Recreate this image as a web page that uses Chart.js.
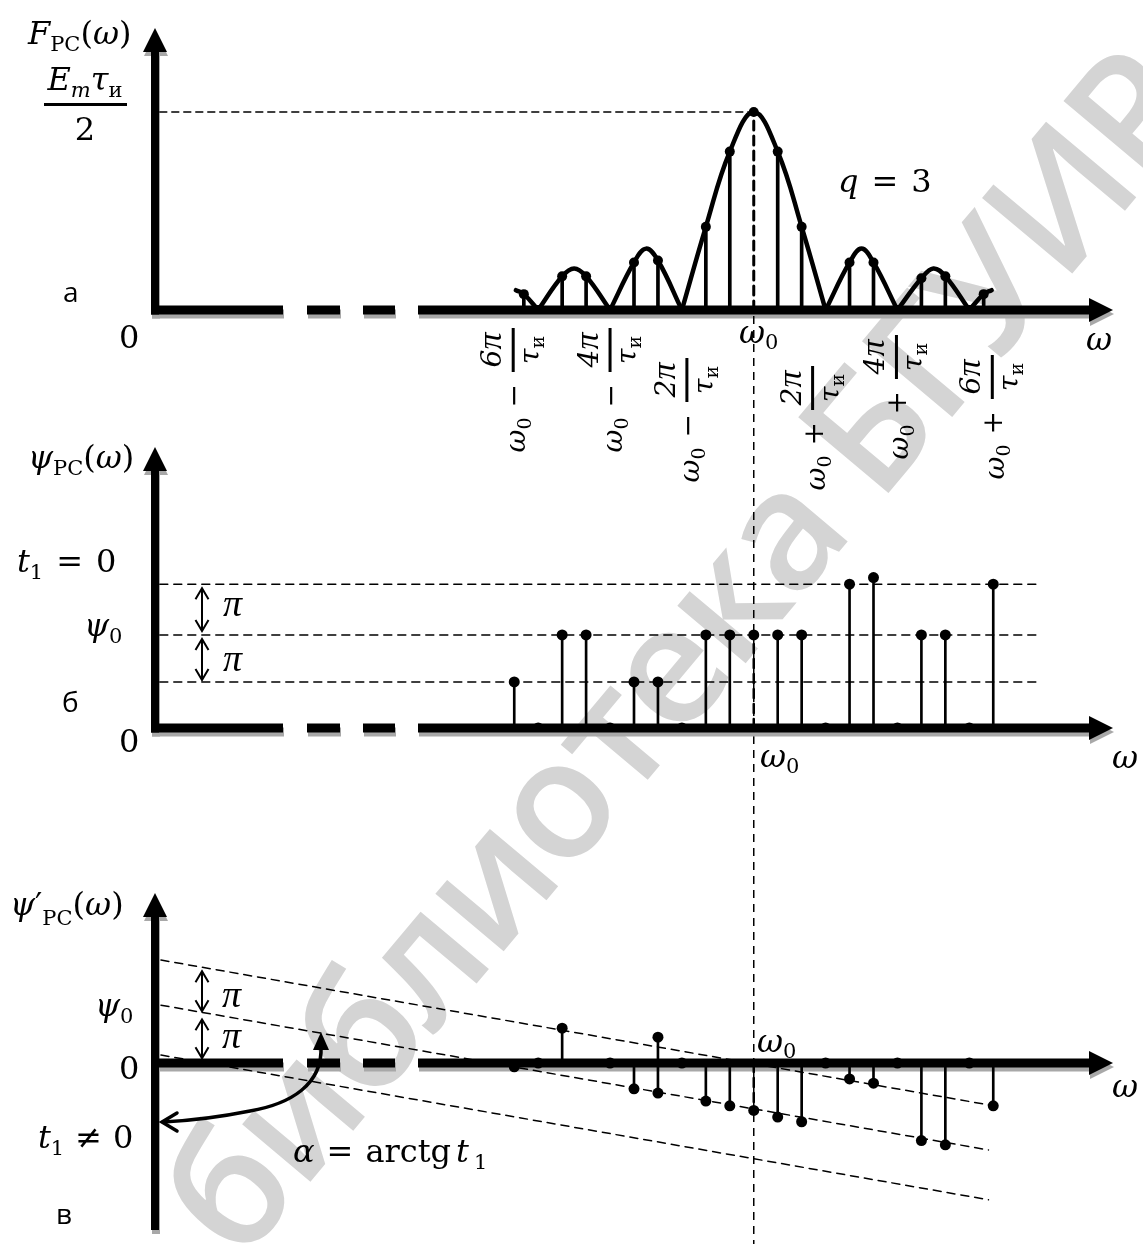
<!DOCTYPE html>
<html>
<head>
<meta charset="utf-8">
<script src="https://cdn.jsdelivr.net/npm/chart.js@4.4.1/dist/chart.umd.min.js"></script>
<style>
html, body { margin: 0; padding: 0; background: #fff; width: 1143px; height: 1244px; overflow: hidden; }
.layer { position: absolute; left: 0; top: 0; }
#wm { position: absolute; left: 128px; top: 1172px; transform-origin: 0 0; transform: rotate(-50deg);
      font: 600 165px "Open Sans"; letter-spacing: -4px; color: #d4d4d4; white-space: nowrap; line-height: 1; }
</style>
</head>
<body>
<div id="wm">библиотека БГУИР</div>
<canvas id="chartA" class="layer" width="1143" height="1244"></canvas>
<canvas id="chartB" class="layer" width="1143" height="1244"></canvas>
<canvas id="chartV" class="layer" width="1143" height="1244"></canvas>
<script>
// x is measured in line spacings from w0 (q = 3, so 3 lines per 2pi/tau)
var harmonics = [-10, -9, -8, -7, -6, -5, -4, -3, -2, -1, 0, 1, 2, 3, 4, 5, 6, 7, 8, 9, 10];

// panel a: amplitude, in units of Em*tau/2
var freqA = [-9.6, -9, -8, -7, -6, -5, -4, -3, -2, -1, 0, 1, 2, 3, 4, 5, 6, 7, 8, 9, 9.6];
var ampA = [0.08, 0, 0.17, 0.17, 0, 0.24, 0.25, 0, 0.42, 0.8, 1, 0.8, 0.42, 0, 0.24, 0.24, 0, 0.16, 0.17, 0, 0.08];
var lobesA = [
  [[-9.93, 0.1], [-9.6, 0.08], [-9, 0]],
  [[-9, 0], [-8, 0.17], [-7.5, 0.21], [-7, 0.17], [-6, 0]],
  [[-6, 0], [-5, 0.24], [-4.5, 0.31], [-4, 0.25], [-3, 0]],
  [[-3, 0], [-2, 0.42], [-1, 0.8], [0, 1], [1, 0.8], [2, 0.42], [3, 0]],
  [[3, 0], [4, 0.24], [4.5, 0.31], [5, 0.24], [6, 0]],
  [[6, 0], [7, 0.16], [7.5, 0.21], [8, 0.17], [9, 0]],
  [[9, 0], [9.6, 0.08], [9.93, 0.1]]
];
var tickPos = [-9, -6, -3, 3, 6, 9];
var tickSign = ['\u2212', '\u2212', '\u2212', '+', '+', '+'];
var tickNum = ['6', '4', '2', '2', '4', '6'];

// panel b: phase for t1 = 0, in units of pi
var phaseB = [0.98, 0, 1.98, 1.98, 0, 0.98, 0.98, 0, 1.98, 1.98, 1.98, 1.98, 1.98, 0, 3.06, 3.2, 0, 1.98, 1.98, 0, 3.06];
var levelsB = [0.98, 1.98, 3.06];

// panel v: phase for t1 != 0, in units of pi
var phaseV = [-0.08, 0, 0.74, null, 0, -0.55, -0.64, 0, -0.81, -0.91, -1.01, -1.15, -1.25, 0, -0.34, -0.43, 0, -1.65, -1.74, 0, -0.91];
var extraFreqV = [-4];
var extraPhaseV = [0.55];
var slantStartV = [2.19, 1.23, 0.17];
var slantEndV = [-0.89, -1.85, -2.91];
var slantFreq = [-24.75, 9.8];

// ---- layout ----
var X_MIN = -25, X_MAX = 15, PLOT_LEFT = 155, PLOT_RIGHT = 1113, W = 1143, H = 1244;
var I = function (s) { return 'italic ' + s + 'px "DejaVu Serif"'; };
var R = function (s) { return s + 'px "DejaVu Serif"'; };
var P = function (s) { return 'italic ' + s + 'px "Liberation Serif"'; }; // pi glyph
var SANS = '28px "Open Sans"';
var BIG = 32, SUB = 21;

function mathText(ctx, x, y, parts, align) {
  var w = 0;
  parts.forEach(function (p) { ctx.font = p[1]; w += ctx.measureText(p[0]).width + (p[3] || 0) * 2; });
  var cx = align === 'center' ? x - w / 2 : (align === 'right' ? x - w : x);
  ctx.textAlign = 'left';
  ctx.textBaseline = 'alphabetic';
  ctx.fillStyle = '#000';
  parts.forEach(function (p) {
    ctx.font = p[1];
    cx += (p[3] || 0);
    ctx.fillText(p[0], cx, y + (p[2] || 0));
    cx += ctx.measureText(p[0]).width + (p[3] || 0);
  });
  return w;
}

function rotLabel(ctx, cx, yTop, sign, num) {
  ctx.save();
  ctx.translate(cx, yTop);
  ctx.rotate(-Math.PI / 2);
  ctx.fillStyle = '#000';
  var numParts = [[num, I(28)], ['\u03c0', P(34)]];
  var denParts = [['\u03c4', I(28)], ['\u0438', R(19), 5]];
  var bar = 44;
  ctx.fillRect(-bar, -1.5, bar, 3);
  mathText(ctx, -bar / 2, -12, numParts, 'center');
  mathText(ctx, -bar / 2, 26, denParts, 'center');
  ctx.font = R(28);
  var wOp = ctx.measureText(sign).width;
  var xOp = -bar - 12 - wOp;
  mathText(ctx, xOp, 10, [[sign, R(28)]], 'left');
  mathText(ctx, xOp - 10, 12, [['\u03c9', I(28)], ['0', R(19), 6]], 'right');
  ctx.restore();
}

function dblArrow(ctx, x, y1, y2) {
  ctx.save();
  ctx.strokeStyle = '#000';
  ctx.lineWidth = 2;
  ctx.beginPath();
  ctx.moveTo(x, y1); ctx.lineTo(x, y2);
  ctx.moveTo(x - 6.5, y1 + 11); ctx.lineTo(x, y1); ctx.lineTo(x + 6.5, y1 + 11);
  ctx.moveTo(x - 6.5, y2 - 11); ctx.lineTo(x, y2); ctx.lineTo(x + 6.5, y2 - 11);
  ctx.stroke();
  ctx.restore();
}

function drawAxes(chart) {
  var ctx = chart.ctx, a = chart.chartArea;
  var y0 = chart.scales.y.getPixelForValue(0);
  var yEnd = Math.max(a.bottom, y0 + 4.5);
  var segs = [[a.left - 4, 283], [307, 340], [363, 395], [418, a.right - 20]];
  function shape(dx, dy, col) {
    ctx.save();
    ctx.translate(dx, dy);
    ctx.fillStyle = col;
    ctx.fillRect(a.left - 4, a.top + 20, 8, yEnd - a.top - 20);
    ctx.beginPath();
    ctx.moveTo(a.left, a.top); ctx.lineTo(a.left - 12, a.top + 24); ctx.lineTo(a.left + 12, a.top + 24);
    ctx.closePath(); ctx.fill();
    segs.forEach(function (s) { ctx.fillRect(s[0], y0 - 4.5, s[1] - s[0], 9); });
    ctx.beginPath();
    ctx.moveTo(a.right, y0); ctx.lineTo(a.right - 24, y0 - 12); ctx.lineTo(a.right - 24, y0 + 12);
    ctx.closePath(); ctx.fill();
    ctx.restore();
  }
  shape(1, 4, '#a8a8a8');
  shape(0, 0, '#000');
}

function pts(xs, ys) {
  var out = [];
  xs.forEach(function (x, i) { if (ys[i] !== null) out.push({ x: x, y: ys[i] }); });
  return out;
}
function stemSet(xs, ys, w) {
  return { type: 'bar', data: pts(xs, ys).filter(function (p) { return p.x !== 0 && p.y !== 0; }),
    backgroundColor: '#000', barThickness: w, borderWidth: 0, grouped: false, order: 2 };
}
function dotSet(xs, ys, r) {
  return { type: 'line', showLine: false, data: pts(xs, ys), pointRadius: r, pointHoverRadius: r,
    pointBackgroundColor: '#000', pointBorderWidth: 0, order: 0 };
}
function lineSet(data, w, dash, order, tension) {
  return { type: 'line', data: data, borderColor: '#000', borderWidth: w, borderDash: dash || [],
    pointRadius: 0, tension: tension || 0, fill: false, borderCapStyle: 'round', borderJoinStyle: 'round', order: order };
}
function centerStem(xs, ys, w) {
  var v = ys[xs.indexOf(0)];
  return lineSet([{ x: 0, y: 0 }, { x: 0, y: v }], w, [9, 6], 1);
}

function makeChart(id, top, bottom, yMin, yMax, datasets, plugin) {
  return new Chart(document.getElementById(id), {
    type: 'line',
    data: { datasets: datasets },
    options: {
      responsive: false, animation: false, events: [],
      layout: { padding: { left: PLOT_LEFT, right: W - PLOT_RIGHT, top: top, bottom: H - bottom } },
      plugins: { legend: { display: false }, tooltip: { enabled: false } },
      scales: {
        x: { type: 'linear', min: X_MIN, max: X_MAX, display: false, offset: false },
        y: { type: 'linear', min: yMin, max: yMax, display: false }
      }
    },
    plugins: [plugin]
  });
}

// ---- panel a ----
var dsA = lobesA.map(function (l) {
  return lineSet(l.map(function (p) { return { x: p[0], y: p[1] }; }), 4.5, [], 3, 0.4);
});
dsA.push(stemSet(freqA, ampA, 3));
dsA.push(dotSet(freqA, ampA, 5));
dsA.push(centerStem(freqA, ampA, 3));
dsA.push(lineSet([{ x: X_MIN + 0.2, y: 1 }, { x: 0, y: 1 }], 1.5, [7, 5], 4));

makeChart('chartA', 28, 310, 0, 282 / 198, dsA, {
  id: 'panelA',
  beforeDatasetsDraw: function (chart) { drawAxes(chart); },
  afterDatasetsDraw: function (chart) {
    var ctx = chart.ctx, xs = chart.scales.x, ys = chart.scales.y;
    var x0 = xs.getPixelForValue(0);
    ctx.save();
    ctx.strokeStyle = '#000'; ctx.lineWidth = 1.5; ctx.setLineDash([8, 6]);
    ctx.beginPath(); ctx.moveTo(x0, ys.getPixelForValue(0) + 6); ctx.lineTo(x0, H); ctx.stroke();
    ctx.restore();
  },
  afterDraw: function (chart) {
    var ctx = chart.ctx, xs = chart.scales.x;
    mathText(ctx, 28, 44, [['F', I(BIG)], ['PC', R(SUB), 7], ['(', R(BIG)], ['\u03c9', I(BIG)], [')', R(BIG)]]);
    mathText(ctx, 85, 90, [['E', I(BIG)], ['m', I(SUB), 7], ['\u03c4', I(BIG)], ['\u0438', R(SUB), 7]], 'center');
    ctx.fillRect(44, 103, 83, 3);
    mathText(ctx, 85, 140, [['2', R(BIG)]], 'center');
    ctx.font = SANS; ctx.fillText('\u0430', 63, 302);
    mathText(ctx, 119, 348, [['0', R(BIG)]]);
    mathText(ctx, 838, 192, [['q', I(BIG)], ['=', R(BIG), 0, 13], ['3', R(BIG)]]);
    mathText(ctx, 739, 343, [['\u03c9', I(BIG)], ['0', R(SUB), 6]]);
    mathText(ctx, 1086, 350, [['\u03c9', I(BIG)]]);
    var dx = [-25, 0, 5, -13, -1, 23], topY = [328, 328, 358, 366, 335, 355];
    tickPos.forEach(function (t, i) {
      rotLabel(ctx, xs.getPixelForValue(t) + dx[i], topY[i], tickSign[i], tickNum[i]);
    });
  }
});

// ---- panel b ----
var dsB = levelsB.map(function (l) { return lineSet([{ x: -24.8, y: l }, { x: 11.9, y: l }], 1.5, [8, 6], 4); });
dsB.push(stemSet(harmonics, phaseB, 2));
dsB.push(dotSet(harmonics, phaseB, 5.5));
dsB.push(centerStem(harmonics, phaseB, 2.5));

makeChart('chartB', 447, 728, 0, 281 / 47, dsB, {
  id: 'panelB',
  beforeDatasetsDraw: function (chart) { drawAxes(chart); },
  afterDraw: function (chart) {
    var ctx = chart.ctx, ys = chart.scales.y;
    mathText(ctx, 28, 468, [['\u03c8', I(BIG)], ['PC', R(SUB), 7], ['(', R(BIG)], ['\u03c9', I(BIG)], [')', R(BIG)]]);
    mathText(ctx, 17, 572, [['t', I(BIG)], ['1', R(SUB), 7], ['=', R(BIG), 0, 13], ['0', R(BIG)]]);
    mathText(ctx, 84, 636, [['\u03c8', I(BIG)], ['0', R(SUB), 7]]);
    ctx.font = SANS; ctx.fillText('\u0431', 62, 712);
    mathText(ctx, 119, 752, [['0', R(BIG)]]);
    dblArrow(ctx, 202, ys.getPixelForValue(levelsB[2]) + 4, ys.getPixelForValue(levelsB[1]) - 4);
    dblArrow(ctx, 202, ys.getPixelForValue(levelsB[1]) + 4, ys.getPixelForValue(levelsB[0]) - 2);
    mathText(ctx, 223, 616, [['\u03c0', P(38)]]);
    mathText(ctx, 223, 671, [['\u03c0', P(38)]]);
    mathText(ctx, 760, 767, [['\u03c9', I(BIG)], ['0', R(SUB), 6]]);
    mathText(ctx, 1112, 768, [['\u03c9', I(BIG)]]);
  }
});

// ---- panel v ----
var dsV = slantStartV.map(function (s, i) {
  return lineSet([{ x: slantFreq[0], y: s }, { x: slantFreq[1], y: slantEndV[i] }], 1.5, [8, 6], 4);
});
dsV.push(stemSet(harmonics, phaseV, 2));
dsV.push(stemSet(extraFreqV, extraPhaseV, 2));
dsV.push(dotSet(harmonics, phaseV, 5.5));
dsV.push(dotSet(extraFreqV, extraPhaseV, 5.5));
dsV.push(centerStem(harmonics, phaseV, 2.5));

makeChart('chartV', 893, 1230, -167 / 47, 170 / 47, dsV, {
  id: 'panelV',
  beforeDatasetsDraw: function (chart) { drawAxes(chart); },
  afterDraw: function (chart) {
    var ctx = chart.ctx, xs = chart.scales.x, ys = chart.scales.y;
    mathText(ctx, 10, 915, [['\u03c8', I(BIG)], ['\u2032', R(BIG)], ['PC', R(SUB), 10], ['(', R(BIG)], ['\u03c9', I(BIG)], [')', R(BIG)]]);
    mathText(ctx, 95, 1016, [['\u03c8', I(BIG)], ['0', R(SUB), 7]]);
    mathText(ctx, 119, 1079, [['0', R(BIG)]]);
    mathText(ctx, 38, 1148, [['t', I(BIG)], ['1', R(SUB), 7], ['\u2260', R(BIG), 0, 11], ['0', R(BIG)]]);
    mathText(ctx, 293, 1162, [['\u03b1', I(BIG)], ['=', R(BIG), 0, 12], ['arctg', R(BIG)], ['t', I(BIG), 0, 5], ['1', R(SUB), 7]]);
    ctx.font = SANS; ctx.fillText('\u0432', 56, 1224);
    mathText(ctx, 757, 1052, [['\u03c9', I(BIG)], ['0', R(SUB), 6]]);
    mathText(ctx, 1112, 1097, [['\u03c9', I(BIG)]]);
    // pi arrows between slanted lines at the left
    var xa = xs.getValueForPixel(202);
    var f = (xa - slantFreq[0]) / (slantFreq[1] - slantFreq[0]);
    var lv = slantStartV.map(function (s, i) { return ys.getPixelForValue(s + f * (slantEndV[i] - s)); });
    dblArrow(ctx, 202, lv[0] + 4, lv[1] - 1);
    dblArrow(ctx, 202, lv[1] + 7, lv[2] - 4);
    mathText(ctx, 222, 1007, [['\u03c0', P(38)]]);
    mathText(ctx, 222, 1048, [['\u03c0', P(38)]]);
    // curved arrow: alpha = arctg t1
    ctx.save();
    ctx.strokeStyle = '#000'; ctx.fillStyle = '#000'; ctx.lineWidth = 3.5; ctx.lineCap = 'round';
    ctx.beginPath();
    ctx.moveTo(321, 1046);
    ctx.bezierCurveTo(323, 1085, 290, 1104, 250, 1111);
    ctx.quadraticCurveTo(205, 1120, 163, 1122);
    ctx.stroke();
    ctx.beginPath();
    ctx.moveTo(177, 1113); ctx.lineTo(162, 1122); ctx.lineTo(177, 1131);
    ctx.stroke();
    ctx.beginPath();
    ctx.moveTo(321, 1032); ctx.lineTo(313, 1050); ctx.lineTo(329, 1050); ctx.closePath(); ctx.fill();
    ctx.restore();
  }
});
</script>
</body>
</html>
